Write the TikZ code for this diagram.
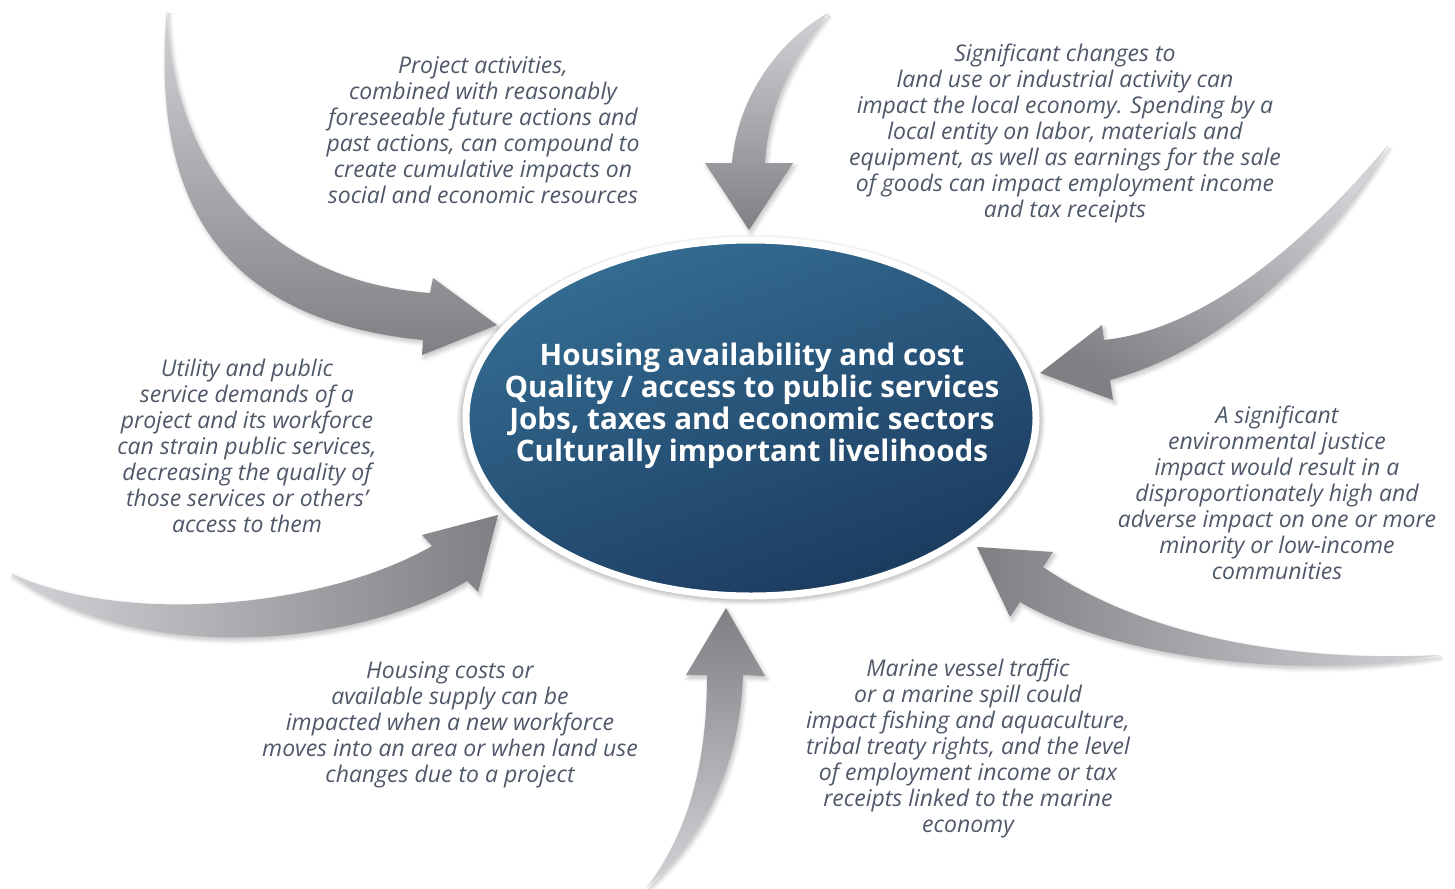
\documentclass[tikz,border=0pt]{standalone}
\usepackage{fontspec}
\setmainfont{Open Sans}
\usetikzlibrary{positioning,shapes,shadows,shadows.blur,calc}

\definecolor{hubtop}{HTML}{356D93}
\definecolor{hubbot}{HTML}{1B3A5E}
\definecolor{arrowlight}{HTML}{D2D3D6}
\definecolor{arrowdark}{HTML}{7F8084}
\definecolor{notetext}{HTML}{4F5869}

\tikzset{
  note/.style={align=center, text=notetext, inner sep=0pt,
    font=\itshape\fontsize{11.5}{13}\selectfont},
  hub/.style={ellipse, draw=white, line width=3.5pt, minimum width=285pt,
    minimum height=178pt, inner sep=0pt, top color=hubtop, bottom color=hubbot,
    shading angle=20,
    blur shadow={shadow xshift=0pt, shadow yshift=-1pt, shadow scale=1.02,
      shadow opacity=30, shadow blur steps=8}},
  hubtext/.style={align=center, text=white, inner sep=0pt,
    font=\bfseries\fontsize{14.8}{16}\selectfont},
  bigarrow/.style={blur shadow={shadow xshift=1pt, shadow yshift=-1.5pt,
      shadow opacity=25, shadow blur steps=6}},
}

\begin{document}
\begin{tikzpicture}[x=0.5pt, y=-0.5pt]
\useasboundingbox (0,0) rectangle (1455,888);

% tails of the arrows
\coordinate (t1) at (167,10);
\coordinate (t2) at (828,13);
\coordinate (t3) at (1388,145);
\coordinate (t4) at (1440,655);
\coordinate (t5) at (647,887);
\coordinate (t6) at (10,573);

\shade[bigarrow, top color=arrowlight, bottom color=arrowdark]
  (t1) .. controls (172,160) and (260,280) .. (430,293) -- (433,278) -- (497,325)
  -- (422,355) -- (423,340) .. controls (220,320) and (150,200) .. (t1);
\shade[bigarrow, top color=arrowlight, bottom color=arrowdark]
  (t2) .. controls (790,60) and (768,110) .. (765,163) -- (793,163) -- (749,230)
  -- (705,163) -- (732,163) .. controls (738,95) and (780,40) .. (t2);
\shade[bigarrow, top color=arrowlight, bottom color=arrowdark, shading angle=-30]
  (t3) .. controls (1300,250) and (1200,330) .. (1104,340) -- (1102,325) -- (1040,373)
  -- (1113,400) -- (1110,380) .. controls (1220,350) and (1320,260) .. (t3);
\shade[bigarrow, left color=arrowdark, right color=arrowlight]
  (t4) .. controls (1300,662) and (1150,640) .. (1043,567) -- (1053,552) -- (977,547)
  -- (1010,617) -- (1020,602) .. controls (1120,660) and (1300,680) .. (t4);
\shade[bigarrow, top color=arrowdark, bottom color=arrowlight]
  (t5) .. controls (690,830) and (707,760) .. (707,675) -- (686,675) -- (726,608)
  -- (765,676) -- (743,675) .. controls (740,760) and (710,830) .. (t5);
\shade[bigarrow, left color=arrowlight, right color=arrowdark]
  (t6) .. controls (120,625) and (320,610) .. (432,546) -- (422,535) -- (498,515)
  -- (478,592) -- (467,581) .. controls (350,650) and (130,665) .. (t6);

\node[hub] (hub) at (751,418) {};
\node[hubtext] (hubtext) at (752,406) {Housing availability and cost\\
  Quality / access to public services\\
  Jobs, taxes and economic sectors\\
  Culturally important livelihoods};

\node[note] (cumul) at (483,130) {Project activities,\\
  combined with reasonably\\
  foreseeable future actions and\\
  past actions, can compound to\\
  create cumulative impacts on\\
  social and economic resources};
\node[note] (econ) at (1065,133) {Significant changes to\\
  land use or industrial activity can\\
  impact the local economy. Spending by a\\
  local entity on labor, materials and\\
  equipment, as well as earnings for the sale\\
  of goods can impact employment income\\
  and tax receipts};
\node[note] (utility) at (247,446) {Utility and public\\
  service demands of a\\
  project and its workforce\\
  can strain public services,\\
  decreasing the quality of\\
  those services or others’\\
  access to them};
\node[note] (ej) at (1277,493) {A significant\\
  environmental justice\\
  impact would result in a\\
  disproportionately high and\\
  adverse impact on one or more\\
  minority or low-income\\
  communities};
\node[note] (housing) at (450,725) {Housing costs or\\
  available supply can be\\
  impacted when a new workforce\\
  moves into an area or when land use\\
  changes due to a project};
\node[note] (marine) at (968,748) {Marine vessel traffic\\
  or a marine spill could\\
  impact fishing and aquaculture,\\
  tribal treaty rights, and the level\\
  of employment income or tax\\
  receipts linked to the marine\\
  economy};
\end{tikzpicture}
\end{document}
